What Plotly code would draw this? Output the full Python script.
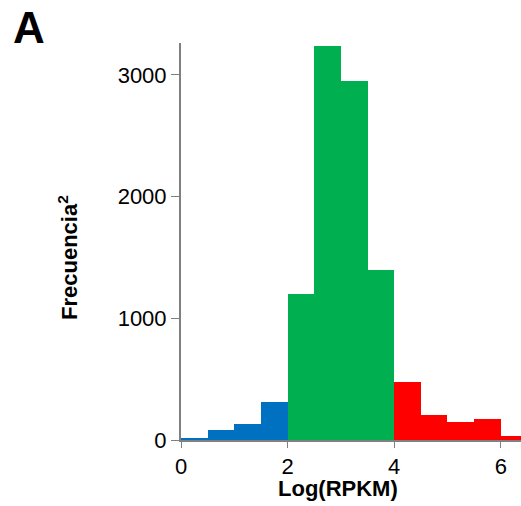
import plotly.graph_objects as go

# Histogram of Log(RPKM): bins of width 0.5 starting at 0
bin_starts = [0.0, 0.5, 1.0, 1.5, 2.0, 2.5, 3.0, 3.5, 4.0, 4.5, 5.0, 5.5, 6.0]
counts = [18, 82, 134, 310, 1200, 3240, 2950, 1395, 480, 208, 148, 170, 33]
groups = ["low", "low", "low", "low", "mid", "mid", "mid", "mid",
          "high", "high", "high", "high", "high"]
group_colors = {"low": "#0070C0", "mid": "#00B050", "high": "#FF0000"}
bin_width = 0.5

x_ticks = [0, 2, 4, 6]
y_ticks = [0, 1000, 2000, 3000]

FONT = "Liberation Sans, Arial, sans-serif"

fig = go.Figure()
for g in ["low", "mid", "high"]:
    xs = [s + bin_width / 2 for s, gg in zip(bin_starts, groups) if gg == g]
    ys = [c for c, gg in zip(counts, groups) if gg == g]
    fig.add_trace(go.Bar(
        x=xs, y=ys, width=bin_width,
        marker=dict(color=group_colors[g], line=dict(width=0)),
        showlegend=False,
    ))

fig.update_layout(
    width=521, height=506,
    margin=dict(l=181, r=0, t=43, b=66),
    plot_bgcolor="white", paper_bgcolor="white",
    bargap=0,
    font=dict(family=FONT, size=22, color="black"),
    xaxis=dict(
        range=[0, 6.38], tickvals=x_ticks, ticks="outside", ticklen=6,
        tickcolor="#808080", showline=True, linecolor="#808080", linewidth=2,
        showgrid=False, zeroline=False, tickfont=dict(size=22),
    ),
    yaxis=dict(
        range=[0, 3262], tickvals=y_ticks, ticks="outside", ticklen=8,
        tickcolor="#808080", showline=True, linecolor="#808080", linewidth=2,
        showgrid=False, zeroline=False, tickfont=dict(size=22),
    ),
    annotations=[
        dict(text="<b>Log(RPKM)</b>", xref="paper", yref="paper",
             x=(338 - 181) / 340, y=-48 / 397, xanchor="center", yanchor="middle",
             showarrow=False, font=dict(size=22)),
        dict(text="<b>Frecuencia<sup>2</sup></b>", xref="paper", yref="paper",
             x=-113 / 340, y=(440 - 258) / 397, xanchor="center", yanchor="middle",
             textangle=-90, showarrow=False, font=dict(size=22)),
        dict(text="<b>A</b>", xref="paper", yref="paper",
             x=-170 / 340, y=(440 - 27) / 397, xanchor="left", yanchor="middle",
             showarrow=False, font=dict(size=44)),
    ],
)

fig.write_html("out.html")
